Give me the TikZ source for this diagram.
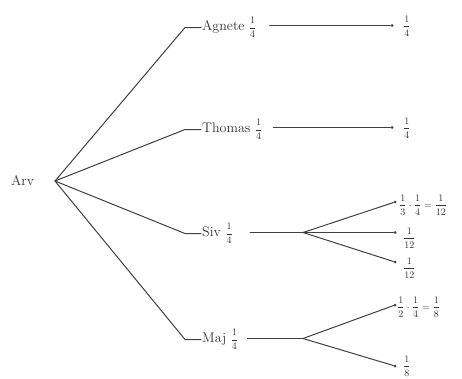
\documentclass[tikz,border=0pt]{standalone}
\begin{document}
\begin{tikzpicture}[x=1pt,y=-1pt,
  ink/.style={draw=black!75, line width=1pt, line cap=round, line join=round},
  lbl/.style={anchor=west, inner sep=1pt, text=black!80, font=\fontsize{14}{16}\selectfont},
  leaf/.style={anchor=west, inner sep=1pt, text=black!80, font=\fontsize{10}{12}\selectfont},
  tip/.style={circle, fill=black!75, inner sep=0pt, minimum size=3pt}]
\newcommand\fr[2]{{\fontsize{10}{12}\selectfont$\displaystyle\frac{#1}{#2}$}}
\useasboundingbox (0,0) rectangle (462,378);

% root
\node[lbl] (arv) at (10,181) {Arv};
\coordinate (root) at (55,181);

% first level: elbows and names
\coordinate (eA) at (185,27.5);
\coordinate (eT) at (185,129.5);
\coordinate (eS) at (185,233.5);
\coordinate (eM) at (185,339.5);
\node[lbl] (agnete) at (201,27.5) {Agnete \fr14};
\node[lbl] (thomas) at (201,129.5) {Thomas \fr14};
\node[lbl] (siv)    at (201,233.5) {Siv \fr14};
\node[lbl] (maj)    at (201,339.5) {Maj \fr14};

\draw[ink] (root) -- (eA) -- (agnete.west);
\draw[ink] (root) -- (eT) -- (thomas.west);
\draw[ink] (root) -- (eS) -- (siv.west);
\draw[ink] (root) -- (eM) -- (maj.west);

% second level
\node[tip] (tA) at (392,25.5) {};
\node[tip] (tT) at (392,127.5) {};
\draw[ink] ([xshift=12pt]tA -| agnete.east) -- (tA);
\draw[ink] ([xshift=10pt]tT -| thomas.east) -- (tT);
\node[leaf] (lA) at (402,26) {$\displaystyle\frac14$};
\node[leaf] (lT) at (402,128) {$\displaystyle\frac14$};

% Siv splits in three
\coordinate (bS) at (303,232.5);
\node[tip] (tS1) at (395,202) {};
\node[tip] (tS2) at (395,232.5) {};
\node[tip] (tS3) at (395,262) {};
\draw[ink] ([xshift=16pt]bS -| siv.east) -- (bS);
\draw[ink] (bS) -- (tS1);
\draw[ink] (bS) -- (tS2);
\draw[ink] (bS) -- (tS3);
\node[leaf] (lS1) at (398,205) {$\displaystyle\frac13\cdot\frac14=\frac1{12}$};
\node[leaf] (lS2) at (402,238) {$\displaystyle\frac1{12}$};
\node[leaf] (lS3) at (402,268) {$\displaystyle\frac1{12}$};

% Maj splits in two
\coordinate (bM) at (303,338.5);
\node[tip] (tM1) at (395,305) {};
\node[tip] (tM2) at (395,366) {};
\draw[ink] ([xshift=8pt]bM -| maj.east) -- (bM);
\draw[ink] (bM) -- (tM1);
\draw[ink] (bM) -- (tM2);
\node[leaf] (lM1) at (396,307) {$\displaystyle\frac12\cdot\frac14=\frac18$};
\node[leaf] (lM2) at (402,366) {$\displaystyle\frac18$};
\end{tikzpicture}
\end{document}
